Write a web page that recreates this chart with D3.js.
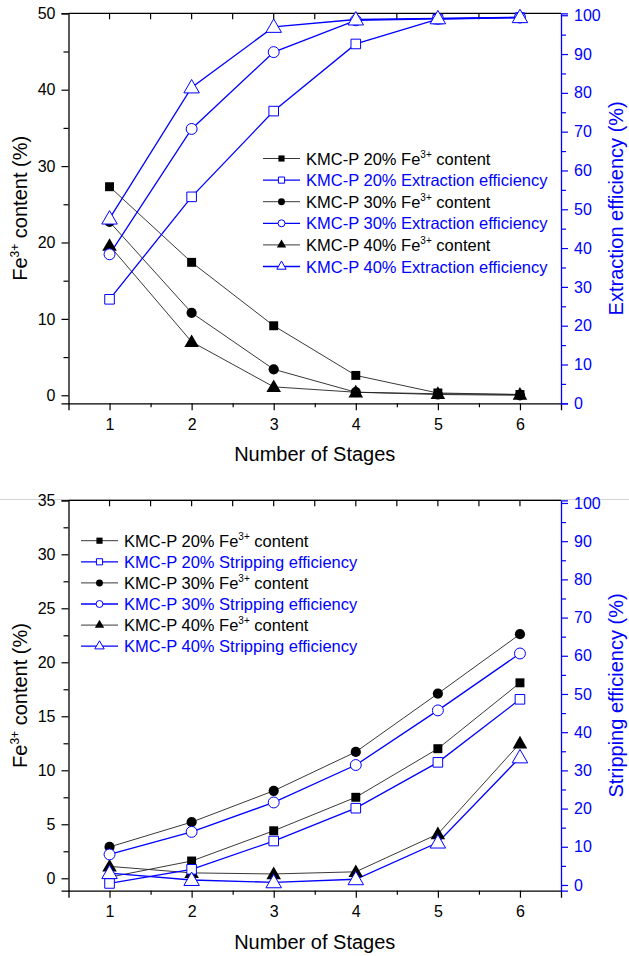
<!DOCTYPE html>
<html>
<head>
<meta charset="utf-8">
<script src="https://cdn.jsdelivr.net/npm/d3@7"></script>
<style>
  body { margin: 0; background: #fff; }
  svg { display: block; font-family: "Liberation Sans", Arial, sans-serif; }
</style>
</head>
<body>
<div id="chart"></div>
<script>
const stages = [1, 2, 3, 4, 5, 6]
const xTicks = [1, 2, 3, 4, 5, 6]

// extraction (top panel)
const extContent20 = [27.3, 17.4, 9.1, 2.6, 0.3, 0.1]
const extContent30 = [22.7, 10.8, 3.4, 0.4, 0.1, 0.0]
const extContent40 = [19.6, 7.0, 1.1, 0.4, 0.2, 0.1]
const extEff20 = [26.8, 53.2, 75.3, 92.6, 99.0, 99.4]
const extEff30 = [38.4, 70.7, 90.5, 98.7, 99.1, 99.4]
const extEff40 = [47.6, 81.4, 97.0, 98.9, 99.2, 99.5]

// stripping (bottom panel)
const stripContent20 = [0.1, 1.6, 4.4, 7.5, 12.0, 18.1]
const stripContent30 = [2.9, 5.2, 8.1, 11.7, 17.1, 22.6]
const stripContent40 = [1.1, 0.5, 0.4, 0.6, 4.1, 12.5]
const stripEff20 = [0.4, 4.1, 11.5, 20.1, 32.1, 48.6]
const stripEff30 = [8.0, 13.9, 21.6, 31.4, 45.7, 60.6]
const stripEff40 = [3.1, 1.3, 0.7, 1.5, 11.1, 33.4]

const labels = ['KMC-P 20%', 'KMC-P 30%', 'KMC-P 40%']

const BLUE = '#0000ff'
const BLACK = '#000'
const width = 629, height = 956

const svg = d3.select('#chart').append('svg')
  .attr('width', width)
  .attr('height', height)

// faint separator between the two images
svg.append('line')
  .attr('x1', 0).attr('x2', width)
  .attr('y1', 499.5).attr('y2', 499.5)
  .attr('stroke', '#d4d4d4').attr('stroke-width', 1)

const symbolFor = [d3.symbolSquare, d3.symbolCircle, d3.symbolTriangle]
const symbolSize = [80, 82, 92]

function drawPanel(p) {
  const { top, bottom, left, right } = p
  const g = svg.append('g')

  const x = d3.scaleLinear().domain([0.5, 6.5]).range([left, right])
  const yL = d3.scaleLinear().domain(p.leftDomain).range([bottom, top])
  const yR = d3.scaleLinear().domain(p.rightDomain).range([bottom, top])

  // top border with inward ticks
  g.append('line')
    .attr('x1', left).attr('x2', right).attr('y1', top).attr('y2', top)
    .attr('stroke', BLACK).attr('stroke-width', 1.3)
  g.append('g').selectAll('line')
    .data([1, 1.5, 2, 2.5, 3, 3.5, 4, 4.5, 5, 5.5, 6])
    .join('line')
    .attr('x1', d => x(d)).attr('x2', d => x(d))
    .attr('y1', top).attr('y2', top + 6)
    .attr('stroke', BLACK).attr('stroke-width', 1.2)

  // bottom axis
  const xAxis = g.append('g')
    .attr('transform', `translate(0,${bottom})`)
    .call(d3.axisBottom(x).tickValues(xTicks).tickSize(7).tickPadding(5).tickFormat(d3.format('d')))
  g.append('g')
    .attr('transform', `translate(0,${bottom})`)
    .call(d3.axisBottom(x).tickValues([1.5, 2.5, 3.5, 4.5, 5.5]).tickSize(4).tickFormat(''))
    .call(a => a.select('.domain').remove())

  // left axis
  const yAxisL = g.append('g')
    .attr('transform', `translate(${left},0)`)
    .call(d3.axisLeft(yL).tickValues(p.leftTicks).tickSize(7).tickPadding(6))
  g.append('g')
    .attr('transform', `translate(${left},0)`)
    .call(d3.axisLeft(yL).tickValues(p.leftMinor).tickSize(5).tickFormat(''))
    .call(a => a.select('.domain').remove())

  // right axis (blue)
  const yAxisR = g.append('g')
    .attr('transform', `translate(${right},0)`)
    .call(d3.axisRight(yR).tickValues(p.rightTicks).tickSize(7).tickPadding(6))
  const yMinorR = g.append('g')
    .attr('transform', `translate(${right},0)`)
    .call(d3.axisRight(yR).tickValues(p.rightMinor).tickSize(5).tickFormat(''))
    .call(a => a.select('.domain').remove())

  g.selectAll('.tick line').attr('stroke-width', 1.2)
  ;[xAxis, yAxisL].forEach(a => {
    a.select('.domain').attr('stroke', BLACK).attr('stroke-width', 1.3)
    a.selectAll('.tick text').attr('font-size', 16).attr('fill', BLACK)
      .attr('font-family', '"Liberation Sans", Arial, sans-serif')
  })
  xAxis.selectAll('.tick text').attr('dy', '0.9em')
  yAxisR.select('.domain').attr('stroke', BLUE).attr('stroke-width', 1.3)
  yAxisR.selectAll('.tick line').attr('stroke', BLUE)
  yMinorR.selectAll('.tick line').attr('stroke', BLUE)
  yAxisR.selectAll('.tick text').attr('font-size', 16).attr('fill', BLUE)
    .attr('font-family', '"Liberation Sans", Arial, sans-serif')

  // series
  const lineL = d3.line().x((d, i) => x(stages[i])).y(d => yL(d))
  const lineR = d3.line().x((d, i) => x(stages[i])).y(d => yR(d))

  p.content.forEach(vals => {
    g.append('path').datum(vals)
      .attr('d', lineL).attr('fill', 'none')
      .attr('stroke', '#222').attr('stroke-width', 0.9)
  })
  p.eff.forEach(vals => {
    g.append('path').datum(vals)
      .attr('d', lineR).attr('fill', 'none')
      .attr('stroke', BLUE).attr('stroke-width', 1.3)
  })
  p.content.forEach((vals, k) => {
    g.append('g').selectAll('path').data(vals).join('path')
      .attr('transform', (d, i) => `translate(${x(stages[i])},${yL(d) + (k === 2 ? 1 : 0)})`)
      .attr('d', d3.symbol(symbolFor[k], symbolSize[k]))
      .attr('fill', BLACK)
  })
  p.eff.forEach((vals, k) => {
    g.append('g').selectAll('path').data(vals).join('path')
      .attr('transform', (d, i) => `translate(${x(stages[i])},${yR(d) + (k === 2 ? 1 : 0)})`)
      .attr('d', d3.symbol(symbolFor[k], symbolSize[k] + 12))
      .attr('fill', '#fff').attr('stroke', BLUE).attr('stroke-width', 1)
  })

  // legend
  const leg = g.append('g')
  const rows = []
  labels.forEach((lab, k) => {
    rows.push({ text: lab, sup: true, k, blue: false })
    rows.push({ text: `${lab} ${p.effName}`, k, blue: true })
  })
  rows.forEach((r, i) => {
    const yy = p.legendY + i * p.legendStep
    const col = r.blue ? BLUE : '#222'
    leg.append('line')
      .attr('x1', p.legendX).attr('x2', p.legendX + 37)
      .attr('y1', yy).attr('y2', yy)
      .attr('stroke', col).attr('stroke-width', r.blue ? 1.3 : 0.9)
    leg.append('path')
      .attr('transform', `translate(${p.legendX + 18.5},${yy})`)
      .attr('d', d3.symbol(symbolFor[r.k], 38))
      .attr('fill', r.blue ? '#fff' : BLACK)
      .attr('stroke', r.blue ? BLUE : 'none')
    const t = leg.append('text')
      .attr('x', p.legendX + 43).attr('y', yy + 6)
      .attr('font-size', 16.5)
      .attr('fill', r.blue ? BLUE : BLACK)
    if (r.sup) {
      t.append('tspan').text(`${r.text} Fe`)
      t.append('tspan').text('3+').attr('font-size', 10).attr('dy', -7)
      t.append('tspan').text(' content').attr('dy', 7)
    } else {
      t.text(r.text)
    }
  })

  // axis titles
  g.append('text')
    .attr('x', (left + right) / 2).attr('y', bottom + 58)
    .attr('text-anchor', 'middle').attr('font-size', 20)
    .text('Number of Stages')

  const yt = g.append('text')
    .attr('transform', `translate(27,${(top + bottom) / 2}) rotate(-90)`)
    .attr('text-anchor', 'middle').attr('font-size', 20)
  yt.append('tspan').text('Fe')
  yt.append('tspan').text('3+').attr('font-size', 12).attr('dy', -8)
  yt.append('tspan').text(' content (%)').attr('dy', 8)

  g.append('text')
    .attr('transform', `translate(623,${(top + bottom) / 2}) rotate(-90)`)
    .attr('text-anchor', 'middle').attr('font-size', 20)
    .attr('fill', BLUE)
    .text(`${p.effName} (%)`)
}

drawPanel({
  top: 13.3, bottom: 403.3, left: 68.5, right: 561,
  leftDomain: [-1.05, 50], rightDomain: [0, 100.5],
  leftTicks: [0, 10, 20, 30, 40, 50], leftMinor: [5, 15, 25, 35, 45],
  rightTicks: d3.range(0, 101, 10), rightMinor: d3.range(5, 100, 10),
  content: [extContent20, extContent30, extContent40],
  eff: [extEff20, extEff30, extEff40],
  effName: 'Extraction efficiency',
  legendX: 263, legendY: 158.5, legendStep: 21.6
})

drawPanel({
  top: 500.3, bottom: 890.7, left: 68.5, right: 561,
  leftDomain: [-1.15, 35], rightDomain: [-1.5, 100.7],
  leftTicks: [0, 5, 10, 15, 20, 25, 30, 35], leftMinor: [2.5, 7.5, 12.5, 17.5, 22.5, 27.5, 32.5],
  rightTicks: d3.range(0, 101, 10), rightMinor: d3.range(5, 100, 10),
  content: [stripContent20, stripContent30, stripContent40],
  eff: [stripEff20, stripEff30, stripEff40],
  effName: 'Stripping efficiency',
  legendX: 81, legendY: 540.7, legendStep: 21.1
})
</script>
</body>
</html>
